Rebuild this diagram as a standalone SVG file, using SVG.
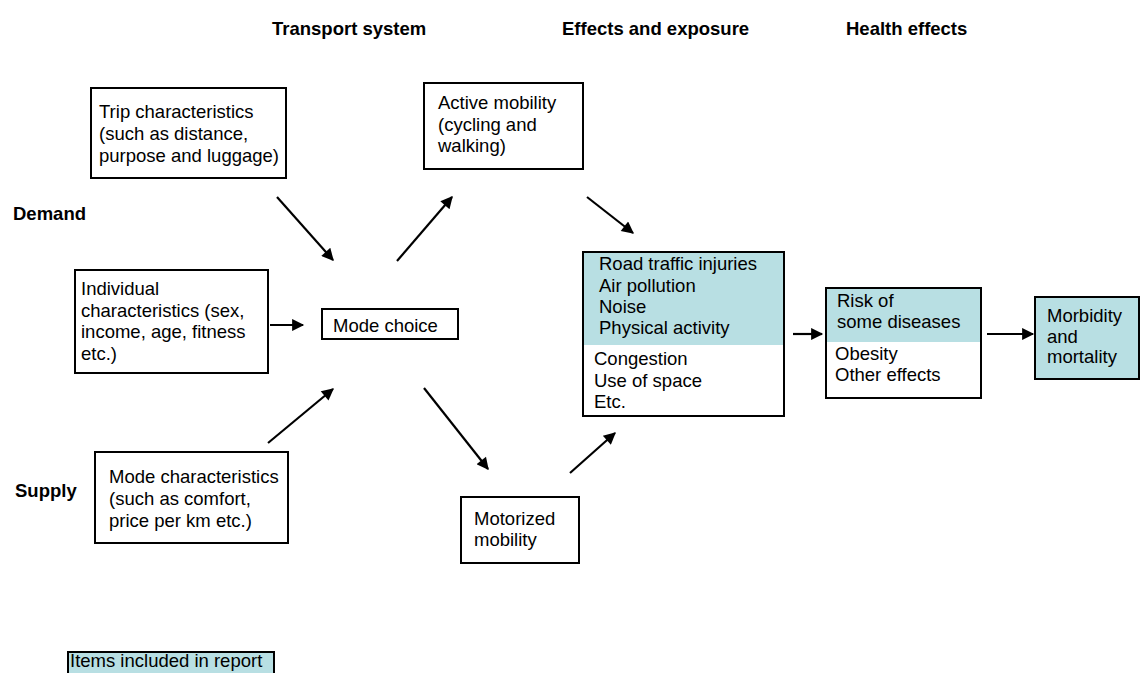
<svg xmlns="http://www.w3.org/2000/svg" width="1141" height="673" viewBox="0 0 1141 673">
<defs>
<style>
text{font-family:"Liberation Sans",Arial,sans-serif;font-size:18.5px;fill:#000}
.h{font-weight:bold}
.box{fill:#fff;stroke:#000;stroke-width:2}
.blue{fill:#b8dfe3}
.edge{fill:none;stroke:#000;stroke-width:2}
.c line{stroke:#000;stroke-width:2.2;marker-end:url(#ah)}
</style>
<marker id="ah" viewBox="0 0 10 10" refX="9" refY="5" markerWidth="6.5" markerHeight="5.5" orient="auto" markerUnits="strokeWidth">
<path d="M0,0 L10,5 L0,10 z" fill="#000"/>
</marker>
</defs>
<rect width="1141" height="673" fill="#fff"/>
<g id="titles">
<text class="h" x="272" y="35">Transport system</text>
<text class="h" x="562" y="35">Effects and exposure</text>
<text class="h" x="846" y="35">Health effects</text>
<text class="h" x="13" y="220">Demand</text>
<text class="h" x="15" y="497">Supply</text>
</g>
<g id="trip">
<rect class="box" x="91" y="88" width="195" height="90"/>
<text x="99" y="118">Trip characteristics</text>
<text x="99" y="140">(such as distance,</text>
<text x="99" y="162">purpose and luggage)</text>
</g>
<g id="individual">
<rect class="box" x="75" y="270" width="193" height="103"/>
<text x="81" y="295">Individual</text>
<text x="81" y="317">characteristics (sex,</text>
<text x="81" y="338">income, age, fitness</text>
<text x="81" y="360">etc.)</text>
</g>
<g id="modechar">
<rect class="box" x="95" y="452" width="193" height="91"/>
<text x="109" y="483">Mode characteristics</text>
<text x="109" y="505">(such as comfort,</text>
<text x="109" y="527">price per km etc.)</text>
</g>
<g id="modechoice">
<rect class="box" x="322" y="309" width="136" height="30"/>
<text x="333" y="332">Mode choice</text>
</g>
<g id="active">
<rect class="box" x="424" y="83" width="159" height="86"/>
<text x="438" y="109">Active mobility</text>
<text x="438" y="131">(cycling and</text>
<text x="438" y="152">walking)</text>
</g>
<g id="motorized">
<rect class="box" x="461" y="497" width="118" height="66"/>
<text x="474" y="525">Motorized</text>
<text x="474" y="546">mobility</text>
</g>
<g id="effects">
<rect class="box" x="583" y="252" width="201" height="164"/>
<rect class="blue" x="584" y="253" width="199" height="92"/>
<rect class="edge" x="583" y="252" width="201" height="164"/>
<text x="599" y="270">Road traffic injuries</text>
<text x="599" y="292">Air pollution</text>
<text x="599" y="313">Noise</text>
<text x="599" y="334">Physical activity</text>
<text x="594" y="365">Congestion</text>
<text x="594" y="387">Use of space</text>
<text x="594" y="408">Etc.</text>
</g>
<g id="risk">
<rect class="box" x="826" y="288" width="155" height="110"/>
<rect class="blue" x="827" y="289" width="153" height="53"/>
<rect class="edge" x="826" y="288" width="155" height="110"/>
<text x="837" y="307">Risk of</text>
<text x="837" y="328">some diseases</text>
<text x="835" y="360">Obesity</text>
<text x="835" y="381">Other effects</text>
</g>
<g id="morbidity">
<rect class="blue" x="1035" y="297" width="104" height="82" stroke="#000" stroke-width="2"/>
<text x="1047" y="322">Morbidity</text>
<text x="1047" y="343">and</text>
<text x="1047" y="363">mortality</text>
</g>
<g id="legend">
<rect class="blue" x="68" y="652" width="206" height="30" stroke="#000" stroke-width="2"/>
<text x="70" y="667">Items included in report</text>
</g>
<g id="connectors" class="c">
<line x1="277" y1="197" x2="333" y2="260"/>
<line x1="270" y1="325" x2="303" y2="325"/>
<line x1="268" y1="443" x2="333" y2="389"/>
<line x1="397" y1="261" x2="452" y2="197"/>
<line x1="424" y1="388" x2="488" y2="469"/>
<line x1="587" y1="197" x2="633" y2="233"/>
<line x1="570" y1="473" x2="615" y2="433"/>
<line x1="793" y1="334" x2="822" y2="334"/>
<line x1="987" y1="334" x2="1033" y2="334"/>
</g>
</svg>
